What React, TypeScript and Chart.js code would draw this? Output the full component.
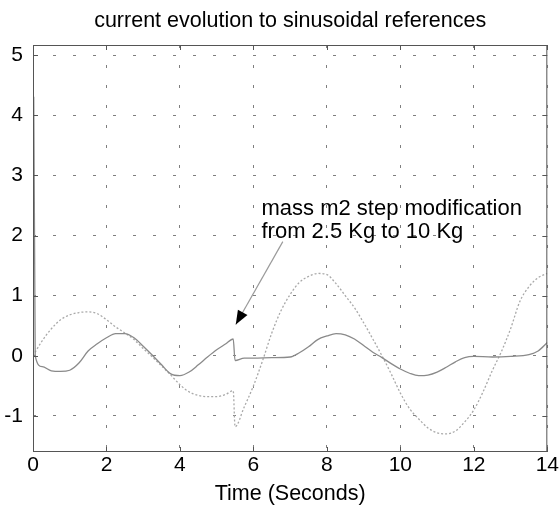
import React, { useEffect, useRef } from "react";
import { Chart, registerables } from "chart.js";

Chart.register(...registerables);

const TITLE = "current evolution to sinusoidal references";
const X_LABEL = "Time (Seconds)";
const NOTE_LINES = ["mass m2 step modification", "from 2.5 Kg to 10 Kg"];
const X_TICKS = [0, 2, 4, 6, 8, 10, 12, 14];
const Y_TICKS = [-1, 0, 1, 2, 3, 4, 5];
const X_RANGE = [0, 14];
const Y_RANGE = [-1.6, 5.17];

// current (solid curve)
const T_CURRENT = [
  0, 0.02, 0.06, 0.25, 0.5, 0.75, 1.0, 1.25, 1.5, 1.75, 2.0, 2.25, 2.5, 2.75, 3.0, 3.25, 3.5, 3.75, 4.0, 4.25,
  4.5, 4.75, 5.0, 5.25, 5.45, 5.5, 5.75, 6.0, 6.5, 7.0, 7.25, 7.5, 7.75, 8.0, 8.25, 8.5, 8.75, 9.0, 9.25, 9.5,
  9.75, 10.0, 10.25, 10.5, 10.75, 11.0, 11.25, 11.5, 11.75, 12.0, 12.5, 13.0, 13.5, 13.75, 14.0,
];
const CURRENT = [
  0, 4.3, 0.0, -0.18, -0.25, -0.26, -0.24, -0.12, 0.08, 0.2, 0.3, 0.37, 0.37, 0.3, 0.16, 0.01, -0.15, -0.3, -0.33, -0.27,
  -0.15, -0.02, 0.1, 0.2, 0.28, -0.08, -0.04, -0.04, -0.03, -0.02, 0.05, 0.15, 0.27, 0.33, 0.37, 0.35, 0.28, 0.17, 0.06, -0.03,
  -0.13, -0.22, -0.29, -0.33, -0.32, -0.27, -0.19, -0.1, -0.03, -0.01, -0.02, -0.01, 0.02, 0.08, 0.22,
];

// reference (dotted curve)
const T_REF = [
  0, 0.25, 0.5, 0.75, 1.0, 1.25, 1.5, 1.75, 2.0, 2.25, 2.5, 2.75, 3.0, 3.25, 3.5, 3.75, 4.0, 4.25, 4.5, 4.75,
  5.0, 5.25, 5.45, 5.5, 5.75, 6.0, 6.25, 6.5, 6.75, 7.0, 7.25, 7.5, 7.75, 8.0, 8.25, 8.5, 8.75, 9.0, 9.25, 9.5,
  9.75, 10.0, 10.25, 10.5, 10.75, 11.0, 11.25, 11.5, 11.75, 12.0, 12.25, 12.5, 12.75, 13.0, 13.25, 13.5, 13.75, 14.0,
];
const REF = [
  0, 0.25, 0.45, 0.6, 0.68, 0.72, 0.73, 0.7, 0.6, 0.48, 0.38, 0.27, 0.12, -0.02, -0.17, -0.32, -0.48, -0.6, -0.66, -0.68,
  -0.68, -0.64, -0.58, -1.18, -0.85, -0.5, -0.08, 0.38, 0.75, 1.02, 1.22, 1.32, 1.37, 1.35, 1.2, 1.0, 0.8, 0.55, 0.28, 0.0,
  -0.3, -0.62, -0.88, -1.05, -1.2, -1.28, -1.3, -1.25, -1.1, -0.9, -0.6, -0.25, 0.07, 0.45, 0.9, 1.15, 1.3, 1.37,
];

const NOTE_AT = [6.22, 2.34];
const ARROW_FROM = [6.8, 1.9];
const ARROW_TO = [5.52, 0.52];

const FONT = '"Liberation Sans", Arial, Helvetica, sans-serif';

const overlay = {
  id: "overlay",
  afterDraw(chart: any) {
    const { ctx, chartArea: a, scales } = chart;
    const xs = scales.x;
    const ys = scales.y;
    ctx.save();
    // box
    ctx.setLineDash([]);
    ctx.strokeStyle = "#555";
    ctx.lineWidth = 1;
    ctx.strokeRect(a.left + 0.5, a.top + 0.5, a.right - a.left - 1, a.bottom - a.top - 1);
    // inward ticks
    const tl = 5;
    ctx.beginPath();
    X_TICKS.forEach((v) => {
      const px = Math.round(xs.getPixelForValue(v)) + 0.5;
      ctx.moveTo(px, a.top);
      ctx.lineTo(px, a.top + tl);
      ctx.moveTo(px, a.bottom);
      ctx.lineTo(px, a.bottom - tl);
    });
    Y_TICKS.forEach((v) => {
      const py = Math.round(ys.getPixelForValue(v)) + 0.5;
      ctx.moveTo(a.left, py);
      ctx.lineTo(a.left + tl, py);
      ctx.moveTo(a.right, py);
      ctx.lineTo(a.right - tl, py);
    });
    ctx.stroke();

    // arrow
    const x1 = xs.getPixelForValue(ARROW_FROM[0]);
    const y1 = ys.getPixelForValue(ARROW_FROM[1]);
    const x2 = xs.getPixelForValue(ARROW_TO[0]);
    const y2 = ys.getPixelForValue(ARROW_TO[1]);
    ctx.strokeStyle = "#9a9a9a";
    ctx.lineWidth = 1.2;
    ctx.beginPath();
    ctx.moveTo(x1, y1);
    ctx.lineTo(x2, y2);
    ctx.stroke();
    const ang = Math.atan2(y2 - y1, x2 - x1);
    const L = 14;
    const W = 5.5;
    const c = Math.cos(ang);
    const s = Math.sin(ang);
    ctx.fillStyle = "#000";
    ctx.beginPath();
    ctx.moveTo(x2, y2);
    ctx.lineTo(x2 - L * c + W * s, y2 - L * s - W * c);
    ctx.lineTo(x2 - L * c - W * s, y2 - L * s + W * c);
    ctx.closePath();
    ctx.fill();

    // note text
    ctx.font = `22px ${FONT}`;
    ctx.fillStyle = "#000";
    ctx.textAlign = "left";
    ctx.textBaseline = "alphabetic";
    const tx = xs.getPixelForValue(NOTE_AT[0]);
    const ty = ys.getPixelForValue(NOTE_AT[1]);
    NOTE_LINES.forEach((line, i) => ctx.fillText(line, tx, ty + i * 22.5));
    ctx.restore();
  },
};

export default function App() {
  const ref = useRef<HTMLCanvasElement | null>(null);

  useEffect(() => {
    if (!ref.current) return;
    const chart = new Chart(ref.current, {
      type: "line",
      data: {
        datasets: [
          {
            label: "current",
            data: T_CURRENT.map((t, i) => ({ x: t, y: CURRENT[i] })),
            borderColor: "#8a8a8a",
            borderWidth: 1.3,
            pointRadius: 0,
            cubicInterpolationMode: "monotone",
            fill: false,
          },
          {
            label: "reference",
            data: T_REF.map((t, i) => ({ x: t, y: REF[i] })),
            borderColor: "#a9a9a9",
            borderWidth: 1.3,
            borderDash: [2, 2],
            pointRadius: 0,
            cubicInterpolationMode: "monotone",
            fill: false,
          },
        ],
      },
      options: {
        animation: false,
        responsive: false,
        maintainAspectRatio: false,
        layout: { padding: { left: 0, right: 12, top: 0, bottom: 0 } },
        plugins: {
          legend: { display: false },
          tooltip: { enabled: false },
          title: {
            display: true,
            text: TITLE,
            fullSize: false,
            color: "#000",
            font: { family: FONT, size: 21.5, weight: "normal", lineHeight: 1.2 },
            padding: { top: 8, bottom: 11.2 },
          },
        },
        scales: {
          x: {
            type: "linear",
            min: X_RANGE[0],
            max: X_RANGE[1],
            afterBuildTicks: (scale: any) => {
              scale.ticks = X_TICKS.map((v) => ({ value: v }));
            },
            afterFit: (scale: any) => {
              scale.height = 59;
            },
            ticks: {
              color: "#000",
              font: { family: FONT, size: 21, lineHeight: 1.2 },
              padding: 1,
              maxRotation: 0,
              autoSkip: false,
              callback: (v: any) => String(v),
            },
            grid: { color: "rgba(0,0,0,0.5)", drawTicks: false, lineWidth: 1 },
            border: { display: false, dash: [3, 17] },
            title: {
              display: true,
              text: X_LABEL,
              color: "#000",
              font: { family: FONT, size: 21.5, lineHeight: 1.2 },
              padding: { top: 0, bottom: 4 },
            },
          },
          y: {
            type: "linear",
            min: Y_RANGE[0],
            max: Y_RANGE[1],
            afterBuildTicks: (scale: any) => {
              scale.ticks = Y_TICKS.map((v) => ({ value: v }));
            },
            afterFit: (scale: any) => {
              scale.width = 33;
            },
            ticks: {
              color: "#000",
              font: { family: FONT, size: 21, lineHeight: 1.2 },
              padding: 10,
              autoSkip: false,
              callback: (v: any) => String(v),
            },
            grid: { color: "rgba(0,0,0,0.5)", drawTicks: false, lineWidth: 1 },
            border: { display: false, dash: [3, 17] },
          },
        },
      },
      plugins: [overlay],
    });
    return () => chart.destroy();
  }, []);

  return (
    <div style={{ position: "fixed", left: 0, top: 0, width: 560, height: 511, background: "#fff" }}>
      <canvas ref={ref} width={560} height={511} style={{ width: 560, height: 511, display: "block" }} />
    </div>
  );
}
